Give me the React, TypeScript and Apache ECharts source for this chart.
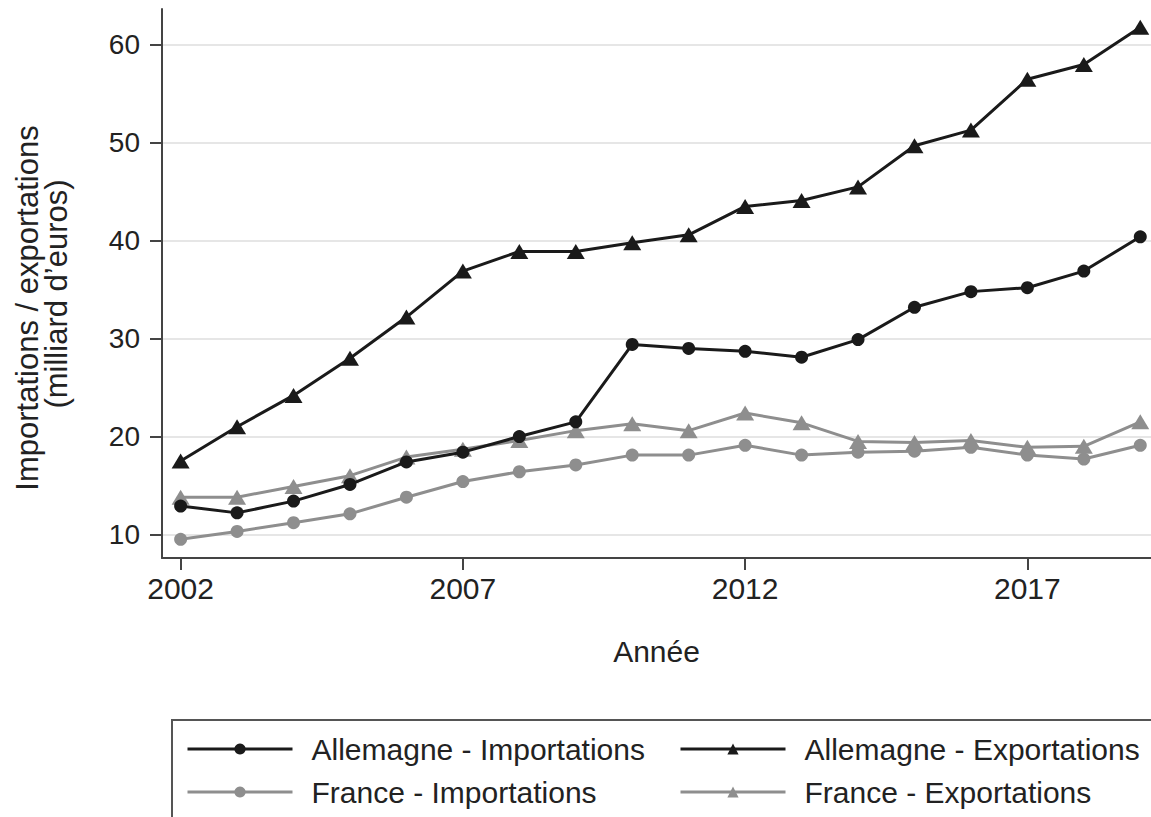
import React, { useEffect, useRef } from "react";
import * as echarts from "echarts";

const years = [2002, 2003, 2004, 2005, 2006, 2007, 2008, 2009, 2010, 2011, 2012, 2013, 2014, 2015, 2016, 2017, 2018, 2019];
const allemagneImport = [12.9, 12.2, 13.4, 15.1, 17.4, 18.4, 20.0, 21.5, 29.4, 29.0, 28.7, 28.1, 29.9, 33.2, 34.8, 35.2, 36.9, 40.4];
const allemagneExport = [17.5, 21.0, 24.2, 28.0, 32.2, 36.9, 38.9, 38.9, 39.8, 40.6, 43.5, 44.1, 45.5, 49.7, 51.3, 56.5, 58.0, 61.8];
const franceImport = [9.5, 10.3, 11.2, 12.1, 13.8, 15.4, 16.4, 17.1, 18.1, 18.1, 19.1, 18.1, 18.4, 18.5, 18.9, 18.1, 17.7, 19.1];
const franceExport = [13.8, 13.8, 14.9, 16.0, 17.9, 18.7, 19.6, 20.6, 21.3, 20.6, 22.4, 21.4, 19.5, 19.4, 19.6, 18.9, 19.0, 21.5];
const xTicks = [2002, 2007, 2012, 2017];
const yTicks = [10, 20, 30, 40, 50, 60];
const seriesNames = ["Allemagne - Importations", "Allemagne - Exportations", "France - Importations", "France - Exportations"];

const FONT = "'Liberation Sans', Arial, Helvetica, sans-serif";
const BLACK = "#1a1a1a";
const GRAY = "#8e8e8e";

export default function App() {
  const ref = useRef<HTMLDivElement>(null);
  useEffect(() => {
    if (!ref.current) return;
    const chart = echarts.init(ref.current, null, { renderer: "svg" });
    const pts = (vals: number[]) => years.map((y, i) => [y, vals[i]]);
    const mkSeries = (name: string, vals: number[], color: string, tri: boolean, z: number) => ({
      name,
      type: "line",
      data: pts(vals),
      symbol: tri ? "triangle" : "circle",
      symbolSize: tri ? [18, 15] : 13,
      z,
      lineStyle: { color, width: 3 },
      itemStyle: { color },
      emphasis: { disabled: true },
    });
    const legendPos = [
      { left: 186, top: 734 },
      { left: 679, top: 734 },
      { left: 186, top: 777 },
      { left: 679, top: 777 },
    ];
    chart.setOption({
      animation: false,
      backgroundColor: "#ffffff",
      textStyle: { fontFamily: FONT },
      grid: { left: 162, top: 9, right: 0, bottom: 259, containLabel: false },
      xAxis: {
        type: "value",
        min: 2001.67,
        max: 2019.19,
        name: "Année",
        nameLocation: "middle",
        nameGap: 78,
        nameTextStyle: { fontSize: 30, color: "#222", fontFamily: FONT },
        axisLine: { show: true, lineStyle: { color: "#444", width: 2 } },
        axisTick: { show: true, length: 12, customValues: xTicks, lineStyle: { color: "#444", width: 2 } },
        axisLabel: { customValues: xTicks, formatter: (v: number) => String(v), fontSize: 30, color: "#222", margin: 15, fontFamily: FONT },
        splitLine: { show: false },
      },
      yAxis: {
        type: "value",
        min: 7.59,
        max: 63.67,
        axisLine: { show: true, lineStyle: { color: "#444", width: 2 } },
        axisTick: { show: true, length: 12, customValues: yTicks, lineStyle: { color: "#444", width: 2 } },
        axisLabel: { customValues: yTicks, fontSize: 28, color: "#222", margin: 22, fontFamily: FONT },
        splitLine: { show: true, lineStyle: { color: "#e6e6e6", width: 2 } },
      },
      legend: seriesNames.map((n, i) => ({
        data: [n],
        left: legendPos[i].left,
        top: legendPos[i].top,
        itemWidth: 105,
        itemHeight: 14,
        padding: 0,
        selectedMode: false,
        lineStyle: { width: 3 },
        textStyle: { fontSize: 30, color: "#222", fontFamily: FONT, padding: [0, 0, 0, 14] },
      })),
      graphic: [
        {
          type: "rect",
          shape: { x: 172, y: 720, width: 1000, height: 130 },
          style: { fill: "none", stroke: "#555", lineWidth: 2 },
          silent: true,
        },
        {
          type: "text",
          x: 27,
          y: 308,
          rotation: Math.PI / 2,
          style: { text: "Importations / exportations", fontSize: 31, fontFamily: FONT, fill: "#222", align: "center", verticalAlign: "middle" },
        },
        {
          type: "text",
          x: 56,
          y: 294,
          rotation: Math.PI / 2,
          style: { text: "(milliard d\u2019euros)", fontSize: 31, fontFamily: FONT, fill: "#222", align: "center", verticalAlign: "middle" },
        },
      ],
      series: [
        mkSeries(seriesNames[2], franceImport, GRAY, false, 2),
        mkSeries(seriesNames[3], franceExport, GRAY, true, 2),
        mkSeries(seriesNames[0], allemagneImport, BLACK, false, 3),
        mkSeries(seriesNames[1], allemagneExport, BLACK, true, 3),
      ],
    });
    return () => chart.dispose();
  }, []);
  return <div ref={ref} style={{ position: "fixed", left: 0, top: 0, width: 1151, height: 817 }} />;
}
